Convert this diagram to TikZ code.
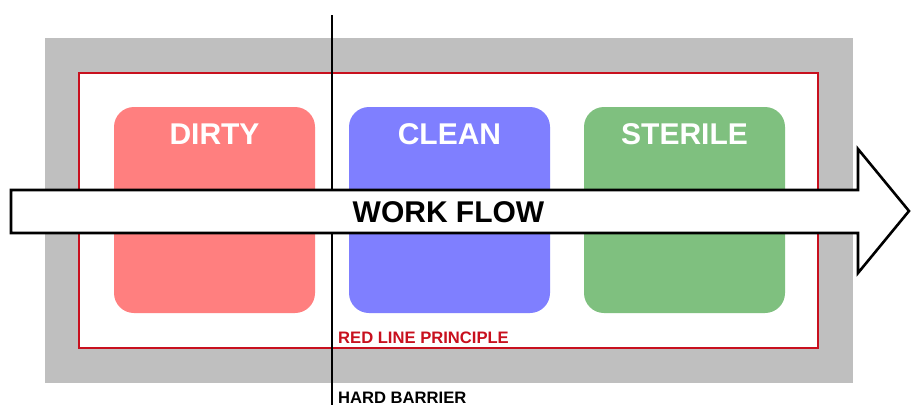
\documentclass[tikz,border=0pt]{standalone}
\usepackage{fontspec}
\setmainfont{Liberation Sans}
\usepackage{tikz}
\usetikzlibrary{positioning,calc}
\definecolor{dirtyred}{RGB}{255,127,127}
\definecolor{cleanblue}{RGB}{127,127,255}
\definecolor{sterilegreen}{RGB}{127,192,127}
\definecolor{wallgray}{RGB}{191,191,191}
\definecolor{redline}{RGB}{200,16,30}
\tikzset{
  zone/.style={rounded corners=20pt, minimum width=201pt, minimum height=206pt, inner sep=0pt},
  zonelabel/.style={anchor=base, inner sep=0pt, text=white, font=\bfseries\fontsize{30}{30}\selectfont},
  smalllabel/.style={anchor=base west, inner sep=0pt, font=\bfseries\fontsize{16.6}{16.6}\selectfont},
}
\begin{document}
\begin{tikzpicture}[x=1pt,y=-1pt]
  \useasboundingbox (0,0) rectangle (911,405);
  \fill[wallgray] (45,38) rectangle (853,383);
  \draw[redline,line width=2.6pt,fill=white] (79,73) rectangle (818,348);

  \node[zone,fill=dirtyred] (dirty) at (214.5,210) {};
  \node[zone,fill=cleanblue] (clean) at (449.5,210) {};
  \node[zone,fill=sterilegreen] (sterile) at (684.5,210) {};
  \node[zonelabel] (dirtylabel) at ([yshift=-38pt]dirty.north) {DIRTY};
  \node[zonelabel] (cleanlabel) at ([yshift=-38pt]clean.north) {CLEAN};
  \node[zonelabel] (sterilelabel) at ([yshift=-38pt]sterile.north) {STERILE};

  \coordinate (barriertop) at (332,15);
  \coordinate (barrierbottom) at (332,405);
  \draw[line width=2.3pt] (barriertop) -- (barrierbottom);

  \draw[line width=2.6pt,fill=white] (11,190) -- (858,190) -- (858,149) -- (909,211)
    -- (858,273) -- (858,233) -- (11,233) -- cycle;
  \node[zonelabel,text=black] (flowlabel) at (448.5,222) {WORK FLOW};

  \node[smalllabel,text=redline] (redlabel) at (338,343) {RED LINE PRINCIPLE};
  \node[smalllabel] (barrierlabel) at (338,403) {HARD BARRIER};
\end{tikzpicture}
\end{document}
